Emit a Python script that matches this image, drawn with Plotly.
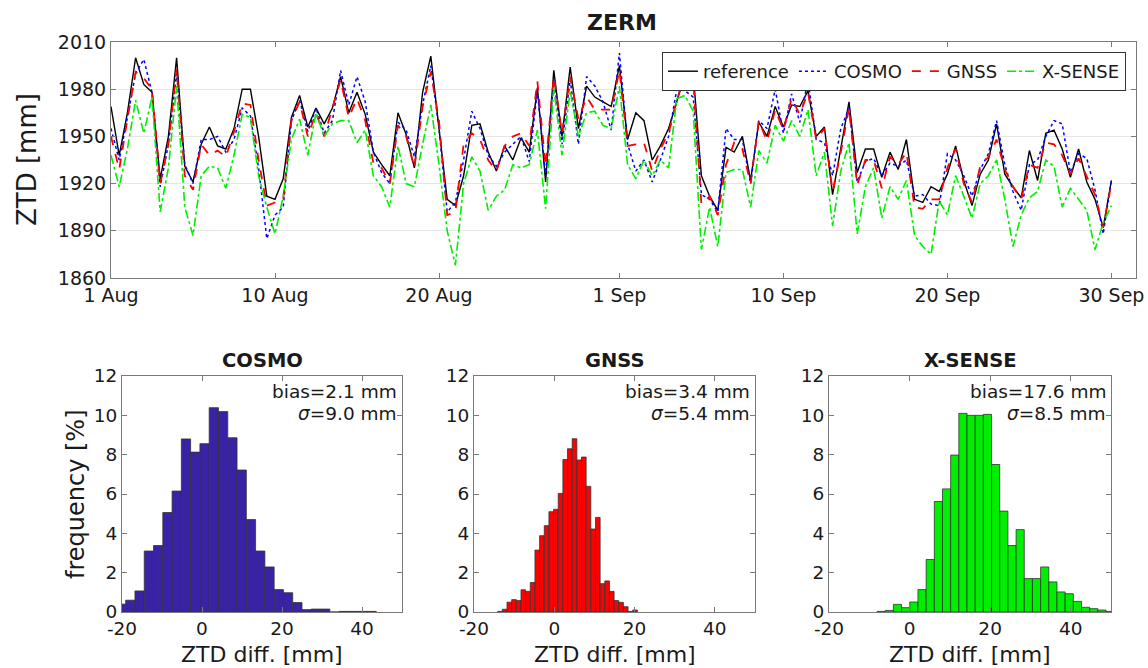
import plotly.graph_objects as go

W, H = 1148, 668

# ---------------- time series (day index since 1 Aug, 0.5-day steps) ----------------
day = [i * 0.5 for i in range(123)]

reference = [1969, 1938, 1965, 2000, 1983, 1978, 1923, 1950, 2000, 1931,
             1921, 1945, 1956, 1944, 1942, 1955, 1980, 1980, 1950, 1912,
             1910, 1923, 1962, 1976, 1956, 1968, 1958, 1968, 1988, 1965,
             1978, 1964, 1940, 1932, 1925, 1965, 1951, 1930, 1978, 2001,
             1955, 1910, 1906, 1925, 1957, 1958, 1940, 1928, 1944, 1935,
             1949, 1940, 1981, 1921, 1992, 1950, 1994, 1955, 1982, 1975,
             1972, 1969, 1995, 1948, 1965, 1960, 1935, 1944, 1955, 1972,
             1992, 1990, 1925, 1912, 1903, 1943, 1940, 1950, 1922, 1959,
             1950, 1969, 1956, 1970, 1969, 1979, 1950, 1956, 1913, 1943,
             1972, 1927, 1942, 1942, 1924, 1940, 1929, 1948, 1910, 1908,
             1918, 1915, 1926, 1944, 1922, 1906, 1926, 1935, 1958, 1926,
             1918, 1911, 1941, 1922, 1952, 1954, 1942, 1924, 1942, 1921,
             1910, 1892, 1922]

cosmo = [1955, 1935, 1962, 1990, 1999, 1978, 1918, 1945, 1990, 1932,
         1920, 1948, 1948, 1950, 1940, 1948, 1968, 1963, 1930, 1885,
         1900, 1905, 1960, 1973, 1953, 1968, 1952, 1960, 1992, 1970,
         1988, 1972, 1940, 1927, 1920, 1959, 1954, 1937, 1970, 1995,
         1955, 1902, 1908, 1935, 1966, 1955, 1938, 1931, 1940, 1945,
         1950, 1934, 1979, 1925, 1986, 1945, 1986, 1945, 1988, 1982,
         1972, 1954, 2003, 1945, 1928, 1935, 1921, 1935, 1950, 1980,
         1979, 1975, 1913, 1910, 1902, 1955, 1948, 1948, 1920, 1960,
         1955, 1980, 1952, 1977, 1959, 1986, 1948, 1946, 1925, 1955,
         1968, 1921, 1934, 1936, 1925, 1933, 1931, 1935, 1912, 1913,
         1907, 1906, 1939, 1935, 1925, 1912, 1929, 1939, 1960, 1932,
         1915, 1903, 1932, 1935, 1950, 1960, 1958, 1927, 1939, 1936,
         1916, 1888, 1922]

gnss = [1950, 1929, 1961, 1991, 1987, 1980, 1920, 1945, 1993, 1925,
        1916, 1945, 1938, 1941, 1937, 1953, 1971, 1970, 1935, 1906,
        1908, 1910, 1960, 1972, 1950, 1965, 1950, 1968, 1986, 1962,
        1974, 1960, 1933, 1930, 1920, 1957, 1950, 1930, 1969, 1991,
        1960, 1900, 1902, 1945, 1952, 1948, 1935, 1928, 1944, 1950,
        1952, 1944, 1985, 1931, 1988, 1952, 1988, 1961, 1975, 1967,
        1967, 1967, 1992, 1944, 1945, 1946, 1928, 1942, 1952, 1973,
        1988, 1986, 1907, 1912, 1900, 1932, 1946, 1942, 1920, 1960,
        1947, 1967, 1954, 1974, 1964, 1978, 1948, 1955, 1915, 1940,
        1968, 1919, 1935, 1935, 1917, 1937, 1932, 1940, 1905, 1904,
        1910, 1910, 1930, 1942, 1920, 1908, 1931, 1937, 1948, 1929,
        1918, 1910, 1932, 1930, 1946, 1945, 1938, 1926, 1936, 1924,
        1913, 1892, 1920]

xsense = [1938, 1918, 1942, 1973, 1952, 1975, 1902, 1930, 1982, 1905,
          1887, 1925, 1931, 1930, 1917, 1938, 1964, 1962, 1925, 1905,
          1888, 1912, 1948, 1961, 1938, 1965, 1950, 1958, 1960, 1960,
          1946, 1954, 1925, 1918, 1905, 1944, 1920, 1918, 1945, 1970,
          1932, 1890, 1868, 1920, 1937, 1928, 1903, 1912, 1916, 1932,
          1930, 1932, 1954, 1904, 1981, 1938, 1979, 1950, 1965, 1966,
          1957, 1955, 1982, 1932, 1923, 1935, 1925, 1935, 1930, 1974,
          1976, 1966, 1878, 1905, 1880, 1927, 1929, 1929, 1905, 1941,
          1933, 1957, 1947, 1960, 1950, 1967, 1925, 1940, 1893, 1928,
          1946, 1888, 1918, 1930, 1898, 1918, 1910, 1922, 1887, 1880,
          1875, 1909, 1900, 1925, 1912, 1898, 1920, 1925, 1935, 1910,
          1880, 1900, 1911, 1915, 1935, 1931, 1905, 1917, 1910, 1903,
          1878, 1895, 1906]

ts_tickvals = [0, 10, 20, 31, 41, 51, 61]
ts_ticktext = ["1 Aug", "10 Aug", "20 Aug", "1 Sep", "10 Sep", "20 Sep", "30 Sep"]

# ---------------- histograms (left bin edge, bin width, frequency %) ----------------
cosmo_edge0, cosmo_bw = -21.4, 2.32
cosmo_freq = [0.4, 0.6, 1.07, 3.1, 3.38, 5.06, 6.15, 8.8, 8.13, 8.56,
              10.39, 10.19, 8.86, 7.22, 4.7, 3.1, 2.29, 1.14, 0.98, 0.48,
              0.12, 0.15, 0.15, 0.0, 0.03, 0.03, 0.03, 0.03]

gnss_edge0, gnss_bw = -14.1, 1.16
gnss_freq = [0.03, 0.14, 0.5, 0.63, 0.58, 1.13, 1.05, 1.5, 3.15, 3.88,
             4.39, 5.1, 5.22, 6.03, 7.75, 8.3, 8.81, 7.73, 7.88, 6.39,
             4.22, 4.81, 1.44, 1.58, 1.05, 0.58, 0.49, 0.27, 0.03, 0.1]

xsense_edge0, xsense_bw = -8.07, 2.03
xsense_freq = [0.03, 0.08, 0.39, 0.22, 0.51, 1.14, 2.67, 5.62, 6.26, 7.98,
               10.1, 10.0, 10.0, 10.05, 7.5, 5.13, 3.38, 4.19, 1.7, 1.7,
               2.29, 1.53, 1.02, 0.93, 0.54, 0.24, 0.17, 0.1, 0.03]

hist_titles = ["COSMO", "GNSS", "X-SENSE"]
hist_bias = ["bias=2.1 mm", "bias=3.4 mm", "bias=17.6 mm"]
hist_sigma = ["9.0", "5.4", "8.5"]
hist_ticks = [-20, 0, 20, 40]
hist_ticktext = ["-20", "0", "20", "40"]

FONT = "DejaVu Sans"
AX = "#7a7a7a"
TXT = "#1a1a1a"

fig = go.Figure()

fig.add_trace(go.Scatter(x=day, y=reference, name="reference", mode="lines",
                         line=dict(color="black", width=1.4)))
fig.add_trace(go.Scatter(x=day, y=cosmo, name="COSMO", mode="lines",
                         line=dict(color="#0000ff", width=1.5, dash="dot")))
fig.add_trace(go.Scatter(x=day, y=gnss, name="GNSS", mode="lines",
                         line=dict(color="#ff0000", width=1.8, dash="dash")))
fig.add_trace(go.Scatter(x=day, y=xsense, name="X-SENSE", mode="lines",
                         line=dict(color="#00ee00", width=1.6, dash="dashdot")))

hists = [(cosmo_edge0, cosmo_bw, cosmo_freq, "#3a22a6"),
         (gnss_edge0, gnss_bw, gnss_freq, "#ff0000"),
         (xsense_edge0, xsense_bw, xsense_freq, "#00ee00")]
for k, (e0, bw, fr, col) in enumerate(hists):
    centers = [e0 + bw * (j + 0.5) for j in range(len(fr))]
    fig.add_trace(go.Bar(x=centers, y=fr, width=bw, showlegend=False,
                         marker=dict(color=col, line=dict(color="#333333", width=0.8)),
                         xaxis="x%d" % (k + 2), yaxis="y%d" % (k + 2)))


def fx(p):
    return p / W


def fy(p):
    return 1 - p / H


def label(text, x, y, size, angle=0, xanchor="center"):
    return dict(text=text, x=fx(x), y=fy(y), xref="paper", yref="paper",
                xanchor=xanchor, yanchor="middle", showarrow=False, textangle=angle,
                font=dict(family=FONT, size=size, color=TXT))


axis_common = dict(showline=True, linecolor=AX, linewidth=1, mirror="ticks",
                   ticks="inside", ticklen=5, tickcolor=AX, zeroline=False,
                   automargin=False,
                   tickfont=dict(family=FONT, size=19, color=TXT))

layout = dict(
    width=W, height=H, margin=dict(l=0, r=0, t=0, b=0, autoexpand=False),
    paper_bgcolor="white", plot_bgcolor="white",
    font=dict(family=FONT, color=TXT),
    showlegend=True,
    legend=dict(orientation="h", x=fx(1126), xanchor="right", y=fy(52), yanchor="top",
                bgcolor="white", bordercolor="#333333", borderwidth=1,
                font=dict(family=FONT, size=18, color=TXT),
                itemwidth=30, tracegroupgap=0),
    xaxis=dict(axis_common, domain=[fx(111), fx(1136)], range=[0, 62.5],
               tickvals=ts_tickvals, ticktext=ts_ticktext, anchor="y", showgrid=False),
    yaxis=dict(axis_common, domain=[fy(278), fy(42)], range=[1860, 2010],
               dtick=30, tick0=1860, showgrid=True, gridcolor="#e6e6e6", anchor="x"),
)

hist_x_px = [(122, 402), (474, 755), (829, 1111)]
annotations = [
    label("<b>ZERM</b>", 622, 23, 22),
    label("ZTD [mm]", 27, 160, 26, angle=-90),
    label("frequency [%]", 76, 494, 24, angle=-90),
]
for k, (x0, x1) in enumerate(hist_x_px):
    n = k + 2
    hist_tf = dict(family=FONT, size=18.5, color=TXT)
    layout["xaxis%d" % n] = dict(axis_common, domain=[fx(x0), fx(x1)], range=[-20, 50],
                                 tickvals=hist_ticks, ticktext=hist_ticktext,
                                 anchor="y%d" % n, showgrid=False, tickfont=hist_tf)
    layout["yaxis%d" % n] = dict(axis_common, domain=[fy(612), fy(376)], range=[0, 12],
                                 dtick=2, anchor="x%d" % n, showgrid=False, tickfont=hist_tf)
    cx = (x0 + x1) / 2
    annotations.append(label("<b>%s</b>" % hist_titles[k], cx, 360, 19.5))
    annotations.append(label("ZTD diff. [mm]", cx, 654, 22))
    annotations.append(label(hist_bias[k], x1 - 3, 391, 18.5, xanchor="right"))
    annotations.append(label("<i>σ</i>=%s mm" % hist_sigma[k], x1 - 3, 414, 18.5,
                             xanchor="right"))

layout["annotations"] = annotations
fig.update_layout(**layout)
fig.write_html("out.html",
               config={"displayModeBar": False, "staticPlot": True},
               post_script="document.body.style.margin='0px';"
                           "document.body.style.overflow='hidden';")
